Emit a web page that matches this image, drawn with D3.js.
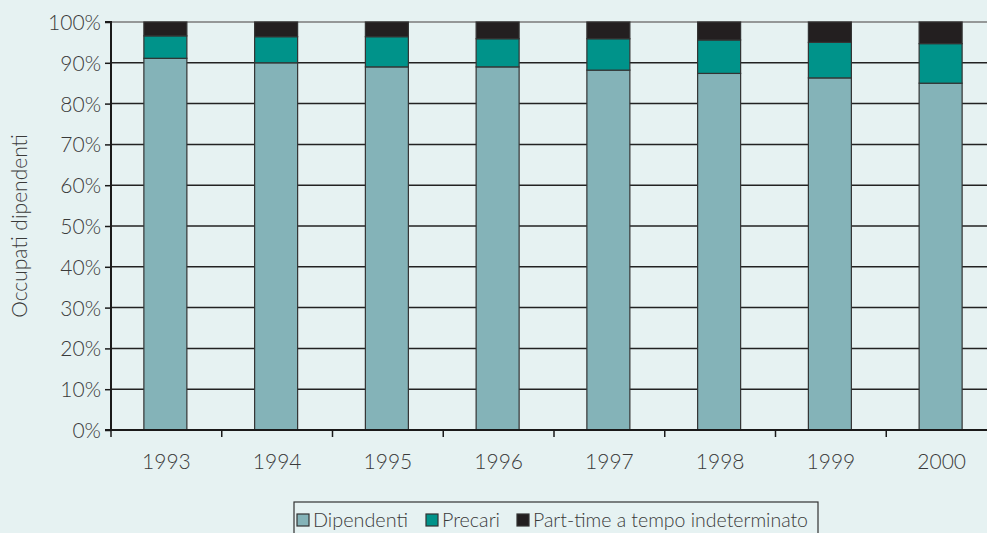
<!DOCTYPE html>
<html><head><meta charset="utf-8">
<script src="https://cdn.jsdelivr.net/npm/d3@7"></script>
<style>
html,body{margin:0;padding:0;background:#e6f2f2;}
svg{display:block;}
text{font-family:"Lato",sans-serif;font-weight:300;fill:#3a3a3a;}
</style></head>
<body>
<svg id="chart" width="987" height="533"></svg>
<script>
const years = ["1993","1994","1995","1996","1997","1998","1999","2000"];
const dipendenti = [91.1, 90.0, 89.0, 89.0, 88.2, 87.4, 86.3, 85.0];
const precari    = [5.5, 6.4, 7.4, 6.9, 7.7, 8.2, 8.7, 9.7];
const partTime   = [3.4, 3.6, 3.6, 4.1, 4.1, 4.4, 5.0, 5.3];
const seriesNames = ["Dipendenti","Precari","Part-time a tempo indeterminato"];
const colors = ["#84b3b8","#00938a","#231f20"];
const yTicks = [0,10,20,30,40,50,60,70,80,90,100];

(function(){
const svg = d3.select("#chart");
const W = 987, H = 533;
svg.append("rect").attr("width",W).attr("height",H).attr("fill","#e6f2f2");

const mLeft = 111, mRight = 997, mTop = 22, mBottom = 430;
const x = d3.scaleBand().domain(years).range([mLeft,mRight]).paddingInner(0).paddingOuter(0);
const y = d3.scaleLinear().domain([0,100]).range([mBottom,mTop]);

// gridlines
svg.append("g").selectAll("line").data(yTicks.filter(d=>d>0)).join("line")
  .attr("x1",mLeft).attr("x2",W).attr("y1",d=>y(d)).attr("y2",d=>y(d))
  .attr("stroke",d=>d===100?"#7a7a7a":"#222").attr("stroke-width",1.5);

// stacked data
const table = years.map((yr,i)=>({year:yr, Dipendenti:dipendenti[i], Precari:precari[i], "Part-time a tempo indeterminato":partTime[i]}));
const stack = d3.stack().keys(seriesNames)(table);
const barW = 43;
const off = (x.bandwidth()-barW)/2 - 1;
svg.append("g").selectAll("g").data(stack).join("g")
  .attr("fill",(d,i)=>colors[i])
  .selectAll("rect").data(d=>d).join("rect")
  .attr("x",d=>x(d.data.year)+off).attr("width",barW)
  .attr("y",d=>y(Math.min(d[1],100))).attr("height",d=>y(d[0])-y(Math.min(d[1],100)))
  .attr("stroke","#333").attr("stroke-width",1.2);

// y axis
const yAxis = d3.axisLeft(y).tickValues(yTicks).tickFormat(d=>d+"%").tickSize(6).tickPadding(4);
const ga = svg.append("g").attr("transform",`translate(${mLeft},0)`).call(yAxis);
ga.select(".domain").attr("stroke","#1a1a1a").attr("stroke-width",2).attr("d",`M-6,${mTop}H0V${mBottom}H-6`);
ga.selectAll(".tick line").attr("stroke","#1a1a1a").attr("stroke-width",1.5);
ga.selectAll(".tick text").attr("font-size",21).attr("font-family","Lato").attr("font-weight",300).attr("fill","#444").attr("dy","0.36em");

// x axis
const xAxis = d3.axisBottom(x).tickSize(0).tickPadding(24);
const gx = svg.append("g").attr("transform",`translate(0,${mBottom})`).call(xAxis);
gx.select(".domain").remove();
gx.selectAll(".tick text").attr("font-size",21).attr("font-family","Lato").attr("font-weight",300).attr("fill","#444").attr("dy","0.71em");
svg.append("line").attr("x1",mLeft).attr("x2",W).attr("y1",mBottom).attr("y2",mBottom).attr("stroke","#1a1a1a").attr("stroke-width",2);
// x tick marks at band boundaries
const bounds = years.map(d=>x(d));
svg.append("g").selectAll("line").data(bounds).join("line")
  .attr("x1",d=>d).attr("x2",d=>d).attr("y1",mBottom).attr("y2",mBottom+7)
  .attr("stroke","#1a1a1a").attr("stroke-width",1.5);

// y label
svg.append("text").attr("transform","translate(27,226) rotate(-90)")
  .attr("text-anchor","middle").attr("font-size",21).attr("fill","#444").text("Occupati dipendenti");

// legend
const lg = svg.append("g");
lg.append("rect").attr("x",294).attr("y",502).attr("width",524).attr("height",40)
  .attr("fill","none").attr("stroke","#333").attr("stroke-width",1.2);
const legX = [297, 426, 517];
const legLen = [95, 58, 275];
seriesNames.forEach((n,i)=>{
  lg.append("rect").attr("x",legX[i]).attr("y",514).attr("width",12).attr("height",12)
    .attr("fill",colors[i]).attr("stroke","#333").attr("stroke-width",1.2);
  lg.append("text").attr("x",legX[i]+16).attr("y",527).attr("font-size",20).attr("fill","#444")
    .attr("textLength",legLen[i]).attr("lengthAdjust","spacingAndGlyphs").text(n);
});
})();
</script>
</body></html>
